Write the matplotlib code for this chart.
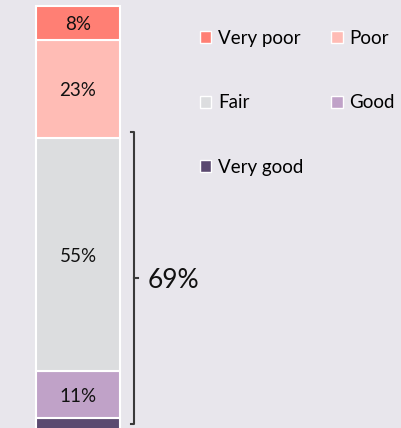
import matplotlib.pyplot as plt
from matplotlib.patches import Patch

# データ（下から順に積み上げ）
categories = ['Very good', 'Good', 'Fair', 'Poor', 'Very poor']
values = [3, 11, 55, 23, 8]
colors = ['#5B4A70', '#C0A2C8', '#DCDDDF', '#FFBCB5', '#FF7F74']
bracket_label = '69%'

plt.rcParams['font.family'] = ['Lato', 'DejaVu Sans']
bg = '#E8E6EC'

fig = plt.figure(figsize=(4.01, 4.28), dpi=100)
fig.patch.set_facecolor(bg)
ax = fig.add_axes([0, 0, 1, 1])
ax.set_facecolor(bg)
ax.axis('off')

# 積み上げ棒
bottom = 0
for cat, v, c in zip(categories, values, colors):
    ax.bar(0, v, width=1, bottom=bottom, color=c, edgecolor='white', linewidth=1.5)
    if v >= 5:
        ax.text(0, bottom + v / 2, f'{v}%', ha='center', va='center_baseline', fontsize=13.5, color='#111111')
    bottom += v

ax.set_xlim(-0.9286, 3.845)
ax.set_ylim(0.7, 101.4)

# ブラケット
bx = 0.667
top, bot = 70.4, 1.7
mid = (top + bot) / 2
ax.plot([bx - 0.04, bx, bx, bx - 0.04], [top, top, bot, bot], color='#3a3a3a', lw=1.5)
ax.plot([bx, bx + 0.05], [mid, mid], color='#3a3a3a', lw=1.5)
ax.text(bx + 0.16, mid, bracket_label, ha='left', va='center_baseline', fontsize=19, color='#111111')

# 凡例（行ごとに並ぶよう順序を入れ替え）
order = [4, 2, 0, 3, 1]
handles = [Patch(facecolor=colors[i], edgecolor='white', label=categories[i]) for i in order]
leg = ax.legend(handles=handles, ncol=2, loc='upper left', bbox_to_anchor=(200 / 401, 1 - 30 / 428),
                frameon=False, fontsize=13.5, handlelength=0.6, handleheight=0.6, handletextpad=0.35,
                labelspacing=2.52, columnspacing=1.5, borderpad=0, borderaxespad=0)

fig.savefig('out.png', dpi=100, facecolor=bg)
